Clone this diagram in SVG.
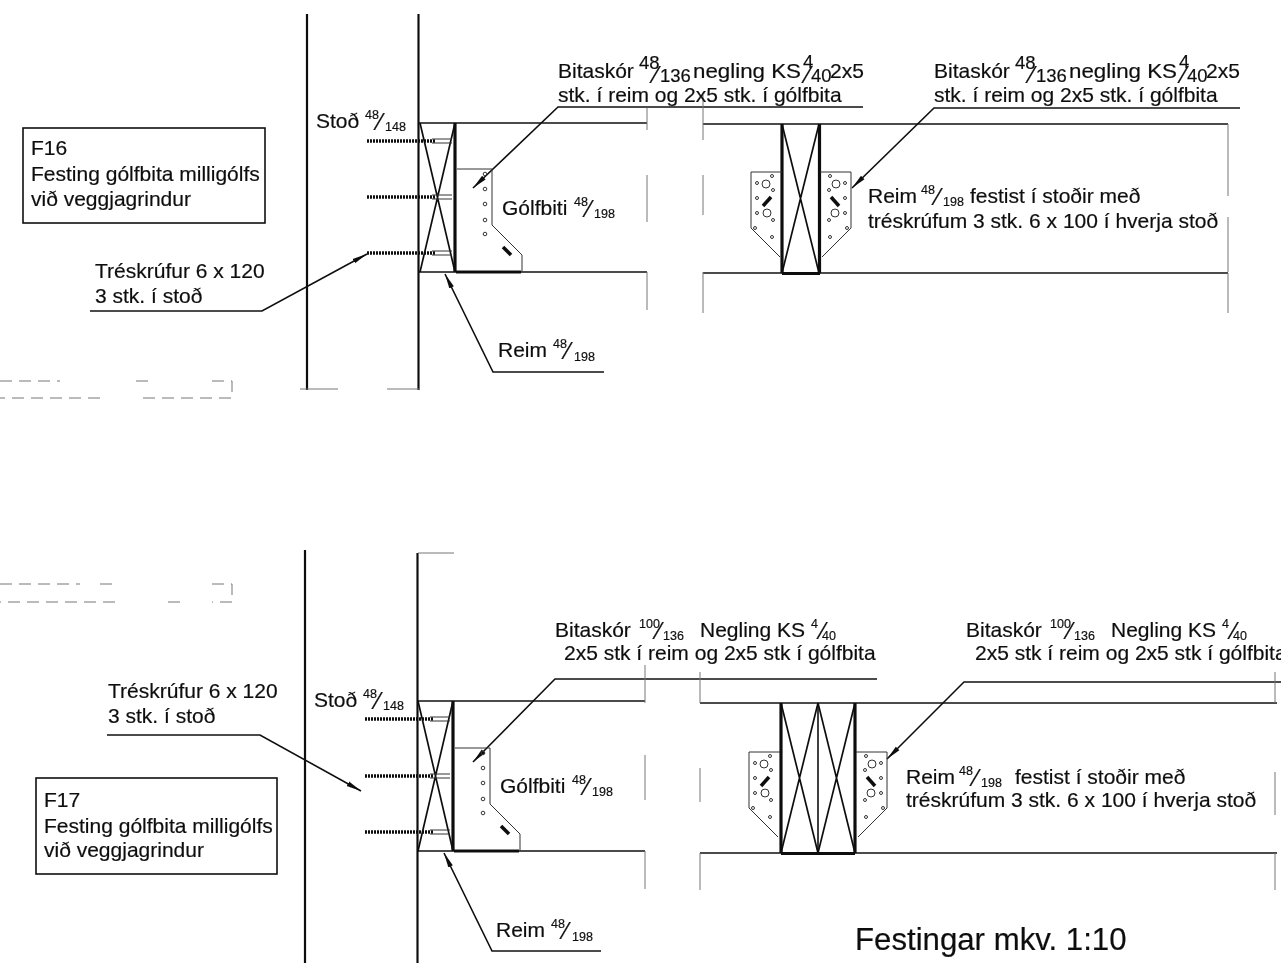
<svg xmlns="http://www.w3.org/2000/svg" xmlns:xlink="http://www.w3.org/1999/xlink" width="1281" height="963" viewBox="0 0 1281 963">
<style>
text{font-family:"Liberation Sans",Arial,sans-serif;font-size:21px;fill:#111;stroke:#111;stroke-width:.2}
.s{font-size:12.500px}
.b{font-size:23px}
.k{font-size:18.500px}
.big{font-size:31.200px}
.l{stroke:#111;stroke-width:1.6;fill:none}
.x{stroke:#111;stroke-width:1.700;fill:none}
.t{stroke:#333;stroke-width:1;fill:none}
.h{stroke:#111;stroke-width:3.200;fill:none}
.m{stroke:#111;stroke-width:2.2;fill:none}
.d{stroke:#777;stroke-width:1;fill:none;stroke-dasharray:12 7}
.g{stroke:#777;stroke-width:1;fill:none}
.sc{stroke:#111;stroke-width:3.500;stroke-dasharray:2 1;fill:none}
.p{fill:none;stroke:#333;stroke-width:1}
.mk{stroke:#111;stroke-width:3.5}
</style>
<defs>
<filter id="soft" x="0" y="0" width="100%" height="100%" filterUnits="objectBoundingBox"><feGaussianBlur stdDeviation="0.35"/></filter>
<marker id="a" markerUnits="userSpaceOnUse" markerWidth="16" markerHeight="8" refX="15" refY="4" orient="auto"><path d="M0,1.5 L15,4 L0,6.5 Z" fill="#111"/></marker>
<g id="shoe">
<path class="p" d="M0,0 H35 V56 L65,86 V103"/>
<g class="p"><circle cx="28" cy="5" r="1.8"/><circle cx="28" cy="20" r="1.8"/><circle cx="28" cy="35" r="1.8"/><circle cx="28" cy="51" r="1.8"/><circle cx="28" cy="65" r="1.8"/></g>
<line class="mk" x1="46" y1="78" x2="54" y2="86"/>
</g>
<g id="plate">
<path class="p" d="M0,0 H31 V56 L2,85"/>
<g class="p"><circle cx="16" cy="12" r="4"/><circle cx="15" cy="41" r="4"/><circle cx="10" cy="4" r="1.5"/><circle cx="25" cy="11" r="1.5"/><circle cx="9" cy="18" r="1.5"/><circle cx="25" cy="26" r="1.5"/><circle cx="25" cy="41" r="1.5"/><circle cx="9" cy="48" r="1.5"/><circle cx="27" cy="56" r="1.5"/><circle cx="10" cy="65" r="1.5"/></g>
<line class="mk" x1="11" y1="25" x2="19" y2="34"/>
</g>
<g id="screws">
<line class="sc" x1="367" y1="0" x2="436" y2="0"/>
<path class="t" d="M432,-2 H452 M432,2 H452"/>
</g>
</defs>
<rect width="1281" height="963" fill="#fff"/>
<g filter="url(#soft)">
<g id="connectors">
<path class="l" marker-end="url(#a)" d="M863,107 H558 L473,188"/>
<path class="l" marker-end="url(#a)" d="M1240,108 H934 L852,188"/>
<path class="l" marker-end="url(#a)" d="M90,311 H262 L367,254"/>
<path class="l" marker-end="url(#a)" d="M604,372 H493 L445,274"/>
<path class="l" marker-end="url(#a)" d="M877,679 H555 L473,762"/>
<path class="l" marker-end="url(#a)" d="M1281,682 H964 L887,759"/>
<path class="l" marker-end="url(#a)" d="M107,735 H260 L361,791"/>
<path class="l" marker-end="url(#a)" d="M601,951 H492 L444,853"/>
</g>
<g id="wall-f16">
<path class="m" d="M307,14 V390 M418.500,14 V390"/>
<path class="g" d="M300,389 H338 M387,389 H420"/>
<path class="d" d="M0,381 H60 M136,381 H150 M212,381 H232 V398 H140 M100,398 H0"/>
</g>
<g id="joist-f16">
<path class="l" d="M419,123 H647 M703,124 H1228 M419,272 H647 M703,273 H1228"/>
<path class="h" d="M455,123 V272 M456,272 H521"/>
<path class="x" d="M420,123 L455,272 M455,123 L420,272"/>
<use xlink:href="#screws" href="#screws" y="141"/>
<use xlink:href="#screws" href="#screws" y="197"/>
<use xlink:href="#screws" href="#screws" y="253"/>
<use xlink:href="#shoe" href="#shoe" x="457" y="169"/>
<path class="g" d="M647,108 V130 M647,175 V222 M647,272 V310 M703,95 V140 M703,175 V215 M703,272 V313 M1228,124 V196 M1228,217 V272 M1228,273 V313"/>
</g>
<g id="post-f16">
<path class="h" d="M782,124 V273 M819.500,124 V273 M782,273.500 H820"/>
<path class="x" d="M782,124 L819,273 M819,124 L782,273"/>
<use xlink:href="#plate" href="#plate" transform="translate(820,172)"/>
<use xlink:href="#plate" href="#plate" transform="translate(782,172) scale(-1,1)"/>
</g>
<g id="wall-f17">
<path class="m" d="M305,550 V963 M417.500,553 V963"/>
<path class="g" d="M418,553 H454"/>
<path class="d" d="M0,584 H80 M100,584 H112 M212,584 H232 V602 H212 M180,602 H165 M115,602 H0"/>
</g>
<g id="joist-f17">
<path class="l" d="M418,701 H645 M700,703 H1277 M418,851 H645 M700,853 H1277"/>
<path class="h" d="M453,701 V851 M454,851 H519"/>
<path class="x" d="M418,701 L453,851 M453,701 L418,851"/>
<use xlink:href="#screws" href="#screws" x="-2" y="719"/>
<use xlink:href="#screws" href="#screws" x="-2" y="776"/>
<use xlink:href="#screws" href="#screws" x="-2" y="832"/>
<use xlink:href="#shoe" href="#shoe" x="455" y="748"/>
<path class="g" d="M645,665 V703 M645,755 V800 M645,851 V889 M700,672 V703 M700,768 V802 M700,853 V890 M1275,672 V703 M1275,772 V815 M1275,853 V890"/>
</g>
<g id="post-f17">
<path class="h" d="M781,703 V853 M855,703 V853 M781,853.500 H855"/>
<path class="l" d="M818,703 V853"/>
<path class="x" d="M781,703 L818,853 M818,703 L781,853 M818,703 L855,853 M855,703 L818,853"/>
<use xlink:href="#plate" href="#plate" transform="translate(856,752)"/>
<use xlink:href="#plate" href="#plate" transform="translate(780,752) scale(-1,1)"/>
</g>
<g id="box-f16">
<rect class="l" x="23" y="128" width="242" height="95"/>
<text x="31" y="155">F16</text><text x="31" y="181">Festing gólfbita milligólfs</text><text x="31" y="206">við veggjagrindur</text>
</g>
<g id="box-f17">
<rect class="l" x="36" y="778" width="241" height="96"/>
<text x="44" y="807">F17</text><text x="44" y="833">Festing gólfbita milligólfs</text><text x="44" y="857">við veggjagrindur</text>
</g>
<g id="labels-f16">
<text x="95" y="278">Tréskrúfur 6 x 120</text><text x="95" y="303">3 stk. í stoð</text>
<text x="316" y="128">Stoð <tspan class="s" x="365" y="119">48</tspan><tspan class="b" x="378" y="130">⁄</tspan><tspan class="s" x="385" y="131">148</tspan></text>
<text x="502" y="215">Gólfbiti <tspan class="s" x="574" y="206">48</tspan><tspan class="b" x="587" y="217">⁄</tspan><tspan class="s" x="594" y="218">198</tspan></text>
<text x="498" y="357">Reim <tspan class="s" x="553" y="348">48</tspan><tspan class="b" x="566" y="359">⁄</tspan><tspan class="s" x="574" y="361">198</tspan></text>
<text x="558" y="78">Bitaskór <tspan class="k" x="639" y="69">48</tspan><tspan class="b" x="654" y="83">⁄</tspan><tspan class="k" x="660" y="82">136</tspan><tspan x="693" y="78" textLength="108" lengthAdjust="spacingAndGlyphs">negling KS</tspan><tspan class="k" x="803" y="68">4</tspan><tspan class="b" x="806" y="83">⁄</tspan><tspan class="k" x="811" y="82">40</tspan><tspan x="830" y="78">2x5</tspan></text>
<text x="558" y="102">stk. í reim og 2x5 stk. í gólfbita</text>
<text x="934" y="78">Bitaskór <tspan class="k" x="1015" y="69">48</tspan><tspan class="b" x="1030" y="83">⁄</tspan><tspan class="k" x="1036" y="82">136</tspan><tspan x="1069" y="78" textLength="108" lengthAdjust="spacingAndGlyphs">negling KS</tspan><tspan class="k" x="1179" y="68">4</tspan><tspan class="b" x="1182" y="83">⁄</tspan><tspan class="k" x="1187" y="82">40</tspan><tspan x="1206" y="78">2x5</tspan></text>
<text x="934" y="102">stk. í reim og 2x5 stk. í gólfbita</text>
<text x="868" y="203">Reim <tspan class="s" x="921" y="194">48</tspan><tspan class="b" x="936" y="205">⁄</tspan><tspan class="s" x="943" y="206">198</tspan><tspan x="970" y="203">festist í stoðir með</tspan></text>
<text x="868" y="228">tréskrúfum 3 stk. 6 x 100 í hverja stoð</text>
</g>
<g id="labels-f17">
<text x="108" y="698">Tréskrúfur 6 x 120</text><text x="108" y="723">3 stk. í stoð</text>
<text x="314" y="707">Stoð <tspan class="s" x="363" y="698">48</tspan><tspan class="b" x="376" y="709">⁄</tspan><tspan class="s" x="383" y="710">148</tspan></text>
<text x="500" y="793">Gólfbiti <tspan class="s" x="572" y="784">48</tspan><tspan class="b" x="585" y="795">⁄</tspan><tspan class="s" x="592" y="796">198</tspan></text>
<text x="496" y="937">Reim <tspan class="s" x="551" y="928">48</tspan><tspan class="b" x="564" y="939">⁄</tspan><tspan class="s" x="572" y="941">198</tspan></text>
<text x="555" y="637">Bitaskór <tspan class="s" x="639" y="628">100</tspan><tspan class="b" x="657" y="639">⁄</tspan><tspan class="s" x="663" y="640">136</tspan><tspan x="700" y="637">Negling KS</tspan><tspan class="s" x="811" y="628">4</tspan><tspan class="b" x="821" y="639">⁄</tspan><tspan class="s" x="822" y="640">40</tspan></text>
<text x="564" y="660">2x5 stk í reim og 2x5 stk í gólfbita</text>
<text x="966" y="637">Bitaskór <tspan class="s" x="1050" y="628">100</tspan><tspan class="b" x="1068" y="639">⁄</tspan><tspan class="s" x="1074" y="640">136</tspan><tspan x="1111" y="637">Negling KS</tspan><tspan class="s" x="1222" y="628">4</tspan><tspan class="b" x="1232" y="639">⁄</tspan><tspan class="s" x="1233" y="640">40</tspan></text>
<text x="975" y="660">2x5 stk í reim og 2x5 stk í gólfbita</text>
<text x="906" y="784">Reim <tspan class="s" x="959" y="775">48</tspan><tspan class="b" x="974" y="786">⁄</tspan><tspan class="s" x="981" y="787">198</tspan><tspan x="1015" y="784">festist í stoðir með</tspan></text>
<text x="906" y="807">tréskrúfum 3 stk. 6 x 100 í hverja stoð</text>
<text class="big" x="855" y="950">Festingar mkv. 1:10</text>
</g>
</g>
</svg>
